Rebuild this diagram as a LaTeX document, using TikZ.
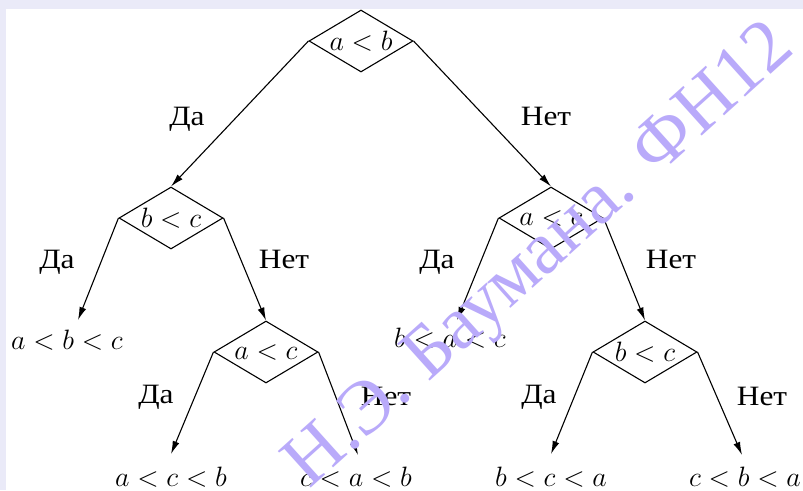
\RequirePackage{fix-cm}
\documentclass[tikz,border=0pt]{standalone}
\usepackage{fontspec}
\newfontfamily\cyr[FakeStretch=1.12]{Liberation Serif}
\newfontfamily\wmfont{Liberation Serif}
\usetikzlibrary{shapes.geometric,arrows.meta}
\definecolor{wm}{RGB}{185,170,250}
\definecolor{band}{RGB}{234,234,248}
\begin{document}
\begin{tikzpicture}[x=1pt,y=-1pt,
  test/.style={diamond, draw, line width=1.1pt, minimum width=104pt, minimum height=62pt,
    inner sep=0pt, aspect=1.68, font=\fontsize{28}{34}\selectfont},
  leaf/.style={anchor=base, inner sep=0pt, font=\fontsize{28}{34}\selectfont},
  lab/.style={anchor=base, inner sep=0pt, font=\fontsize{28}{34}\cyr},
  arr/.style={line width=1.1pt, -{Latex[length=13pt,width=7pt]}},
  wmark/.style={text=wm, font=\fontsize{75}{80}\wmfont, rotate=42, inner sep=0pt}
  ]
\useasboundingbox (0,0) rectangle (803,490);
\fill[white] (0,0) rectangle (803,490);
\fill[band] (0,0) rectangle (803,9);
\fill[band] (0,0) rectangle (6,490);

% decision nodes
\node[test] (r)  at (361,41)  {$a<b$};
\node[test] (b1) at (171,218) {$b<c$};
\node[test] (a1) at (551,218) {$a<c$};
\node[test] (a2) at (266,352) {$a<c$};
\node[test] (b2) at (645,352) {$b<c$};

% leaves
\node[leaf] (l1) at (67,349)  {$a<b<c$};
\node[leaf] (l2) at (450,347) {$b<a<c$};
\node[leaf] (l3) at (171,486) {$a<c<b$};
\node[leaf] (l4) at (356,486) {$c<a<b$};
\node[leaf] (l5) at (551,486) {$b<c<a$};
\node[leaf] (l6) at (745,486) {$c<b<a$};

% arrow tips above leaves
\coordinate (t1) at (78,320);
\coordinate (t2) at (457,320);
\coordinate (t3) at (171,454);
\coordinate (t4) at (358,455);
\coordinate (t5) at (551,454);
\coordinate (t6) at (742,455);

% connectors
\draw[arr] (r.west) -- (b1.north);
\draw[arr] (r.east) -- (a1.north);
\draw[arr] (b1.west) -- (t1);
\draw[arr] (b1.east) -- (a2.north);
\draw[arr] (a1.west) -- (t2);
\draw[arr] (a1.east) -- (b2.north);
\draw[arr] (a2.west) -- (t3);
\draw[arr] (a2.east) -- (t4);
\draw[arr] (b2.west) -- (t5);
\draw[arr] (b2.east) -- (t6);

% labels
\node[lab] (y0) at (187,125) {Да};
\node[lab] (n0) at (546,125) {Нет};
\node[lab] (y1) at (57,268)  {Да};
\node[lab] (n1) at (284,268) {Нет};
\node[lab] (y2) at (437,268) {Да};
\node[lab] (n2) at (671,268) {Нет};
\node[lab] (y3) at (156,403) {Да};
\node[lab] (n3) at (386,405) {Нет};
\node[lab] (y4) at (539,403) {Да};
\node[lab] (n4) at (762,405) {Нет};

% watermark
\node[wmark] (wmk) at (542,258) {Н.Э. Баумана. ФН12};
\end{tikzpicture}
\end{document}
